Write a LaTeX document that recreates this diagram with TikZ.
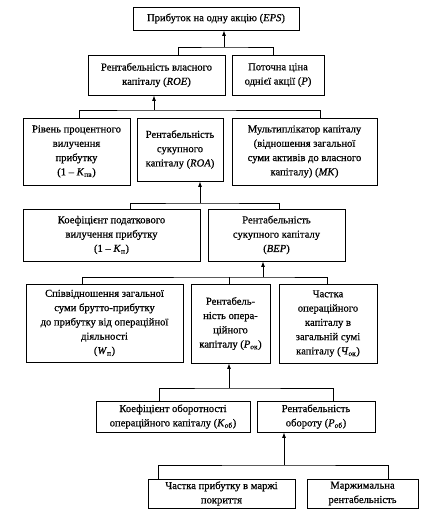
\documentclass[tikz,border=0pt]{standalone}
\usepackage{fontspec}
\setmainfont{Liberation Serif}[FakeBold=0.6]
\usetikzlibrary{arrows.meta}
\tikzset{
  bx/.style={draw, line width=0.9pt, align=center, inner sep=1pt,
    font=\fontsize{10.6}{14.3}\selectfont},
  ln/.style={line width=0.75pt},
  ar/.style={line width=0.75pt, -{Latex[length=5.5pt,width=4pt]}}
}
\newcommand{\sbs}[1]{\textsubscript{#1}}
\begin{document}
\begin{tikzpicture}[x=1pt,y=-1pt]
\useasboundingbox (0,0) rectangle (424,520);
\node[bx, minimum width=166pt, minimum height=23pt] (n1) at (216,18.5) {Прибуток на одну акцію (\textit{EPS})};
\node[bx, minimum width=137pt, minimum height=40pt] (n2) at (156.5,75) {Рентабельність власного\\капіталу (\textit{ROE})};
\node[bx, minimum width=92pt, minimum height=40pt] (n3) at (278,75) {Поточна ціна\\однієї акції (\textit{P})};
\node[bx, minimum width=107pt, minimum height=67pt] (n4) at (76.5,151.5) {Рівень процентного\\вилучення\\прибутку\\(1 – \textit{K}\sbs{пв})};
\node[bx, minimum width=86pt, minimum height=63pt] (n5) at (180,149.5) {Рентабельність\\сукупного\\капіталу (\textit{ROA})};
\node[bx, minimum width=145pt, minimum height=67pt] (n6) at (304.5,151.5) {Мультиплікатор капіталу\\(відношення загальної\\суми активів до власного\\капіталу) (\textit{MK})};
\node[bx, minimum width=177pt, minimum height=52pt] (n7) at (111.5,235) {Коефіцієнт податкового\\вилучення прибутку\\(1 – \textit{K}\sbs{п})};
\node[bx, minimum width=137pt, minimum height=52pt] (n8) at (276.5,235) {Рентабельність\\сукупного капіталу\\(\textit{BEP})};
\node[bx, minimum width=157pt, minimum height=78pt] (n9) at (104.5,323) {Співвідношення загальної\\суми брутто-прибутку\\до прибутку від операційної\\діяльності\\(\textit{W}\sbs{п})};
\node[bx, minimum width=79pt, minimum height=79pt] (n10) at (230.5,323.5) {Рентабель-\\ність опера-\\ційного\\капіталу (\textit{Р}\sbs{ок})};
\node[bx, minimum width=98pt, minimum height=79pt] (n11) at (328,323.5) {Частка\\операційного\\капіталу в\\загальній сумі\\капіталу (\textit{Ч}\sbs{ок})};
\node[bx, minimum width=154pt, minimum height=31pt] (n12) at (173,416.5) {Коефіцієнт оборотності\\операційного капіталу (\textit{K}\sbs{об})};
\node[bx, minimum width=118pt, minimum height=31pt] (n13) at (316,416.5) {Рентабельність\\обороту (\textit{Р}\sbs{об})};
\node[bx, minimum width=147pt, minimum height=29pt] (n14) at (221.5,493.5) {Частка прибутку в маржі\\покриття};
\node[bx, minimum width=111pt, minimum height=29pt] (n15) at (362.5,493.5) {Маржимальна\\рентабельність};
% connectors
\coordinate (b1) at (224,47);
\draw[ln] ([xshift=21.5pt]n2.north) |- (b1) -| ([xshift=-5pt]n3.north);
\draw[ar] (b1) -- (b1 |- n1.south);
\coordinate (b2) at (154,110);
\draw[ln] ([xshift=2.5pt]n4.north) |- (b2) -| ([xshift=15.5pt]n6.north);
\draw[ar] (b2) -- (b2 |- n2.south);
\coordinate (b3) at (200,203);
\draw[ln] ([xshift=18.5pt]n7.north) |- (b3) -| ([xshift=2.5pt]n8.north);
\draw[ar] (b3) -- (b3 |- n5.south);
\coordinate (b4) at (263,277);
\draw[ln] ([xshift=-22.5pt]n9.north) |- (b4) -| ([xshift=-1pt]n11.north);
\draw[ln] ([xshift=-1.5pt]n10.north) -- ([xshift=-1.5pt]n10.north |- b4);
\draw[ar] (b4) -- (b4 |- n8.south);
\coordinate (b5) at (229,388);
\draw[ln] ([xshift=-14pt]n12.north) |- (b5) -| ([xshift=17pt]n13.north);
\draw[ar] (b5) -- (b5 |- n10.south);
\coordinate (b6) at (284,465);
\draw[ln] ([xshift=-63.5pt]n14.north) |- (b6) -| ([xshift=25.5pt]n15.north);
\draw[ar] (b6) -- (b6 |- n13.south);
\end{tikzpicture}
\end{document}
